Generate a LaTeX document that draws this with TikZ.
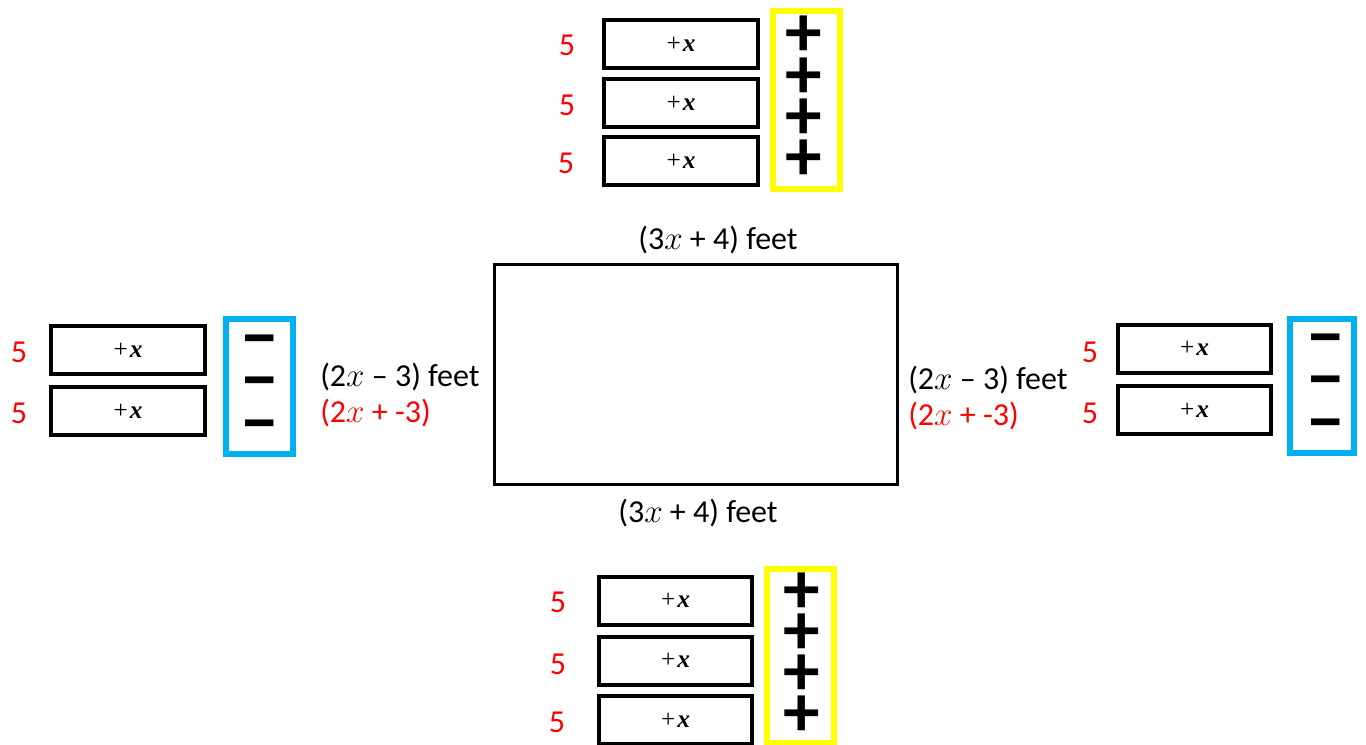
\documentclass[tikz,border=0pt]{standalone}
\usepackage{fontspec}
\setmainfont{Carlito}
\newfontfamily\tilefont{Liberation Serif}
\definecolor{myyellow}{RGB}{255,255,0}
\definecolor{myblue}{RGB}{0,176,240}
\definecolor{myred}{RGB}{255,0,0}
\newcommand{\tx}{+\kern1.5pt\textbf{\textit{x}}}
\newcommand{\mn}{\char"2212}
\newcommand{\signstrut}{\rule{0pt}{30pt}}
\begin{document}
\begin{tikzpicture}[x=0.75pt,y=-0.75pt,
  tile/.style={draw=black, line width=3pt, minimum width=115pt, minimum height=36pt, inner sep=0pt,
    font=\tilefont\fontsize{19}{19}\selectfont},
  ybox/.style={draw=myyellow, line width=4.5pt, inner sep=0pt},
  bbox/.style={draw=myblue, line width=4.5pt, inner sep=0pt},
  signs/.style={inner sep=0pt, anchor=north, align=center,
    font=\fontsize{55}{#1}\selectfont\bfseries},
  lbl/.style={inner sep=0pt, font=\fontsize{24}{28}\selectfont},
  rlbl/.style={lbl, text=myred},
  field/.style={draw=black, line width=2.25pt}]
\useasboundingbox[fill=white] (0,0) rectangle (1366,745);
% ---------- top group ----------
\node[tile] (t1) at (681,44) {\tx};
\node[tile] (t2) at (681,103.5) {\tx};
\node[tile] (t3) at (681,161) {\tx};
\node[ybox, minimum width=50.25pt, minimum height=133.5pt] (ty) at (806.5,100) {};
\node[signs=31pt] (tp) at (804,16) {\signstrut+\\+\\+\\+};
\node[rlbl] (t5a) at (567,45) {5};
\node[rlbl] (t5b) at (567,105) {5};
\node[rlbl] (t5c) at (566,163) {5};
% ---------- left group ----------
\node[tile] (l1) at (128,350) {\tx};
\node[tile] (l2) at (128,411) {\tx};
\node[bbox, minimum width=50.25pt, minimum height=101.25pt] (lb) at (259.5,386.5) {};
\node[signs=31.9pt] (lm) at (260,321) {\signstrut\mn\\\mn\\\mn};
\node[rlbl] (l5a) at (19,352) {5};
\node[rlbl] (l5b) at (19,413) {5};
\node[lbl, anchor=west] (lt) at (320,377) {(2$x$ – 3) feet};
\node[rlbl, anchor=west] (lr) at (320,413) {(2$x$ + -3)};
% ---------- right group ----------
\node[tile] (r1) at (1194.5,348.5) {\tx};
\node[tile] (r2) at (1194.5,410) {\tx};
\node[bbox, minimum width=48pt, minimum height=100.5pt] (rb) at (1321.5,386) {};
\node[signs=31.9pt] (rm) at (1326,320) {\signstrut\mn\\\mn\\\mn};
\node[rlbl] (r5a) at (1090,352) {5};
\node[rlbl] (r5b) at (1090,413) {5};
\node[lbl, anchor=west] (rt) at (908,380) {(2$x$ – 3) feet};
\node[rlbl, anchor=west] (rr) at (908,416) {(2$x$ + -3)};
% ---------- center ----------
\node[field, minimum width=302.25pt, minimum height=165pt] (fld) at (696,374.5) {};
\node[lbl] (ct) at (718,240) {(3$x$ + 4) feet};
\node[lbl] (cb) at (698,513) {(3$x$ + 4) feet};
% ---------- bottom group ----------
\node[tile] (b1) at (675.5,600.5) {\tx};
\node[tile] (b2) at (675.5,660.5) {\tx};
\node[tile] (b3) at (675.5,720) {\tx};
\node[ybox, minimum width=50.25pt, minimum height=130.5pt] (by) at (800.5,656) {};
\node[signs=30.75pt] (bp) at (802,573) {\signstrut+\\+\\+\\+};
\node[rlbl] (b5a) at (558,602) {5};
\node[rlbl] (b5b) at (558,664) {5};
\node[rlbl] (b5c) at (557,722) {5};
\end{tikzpicture}
\end{document}
